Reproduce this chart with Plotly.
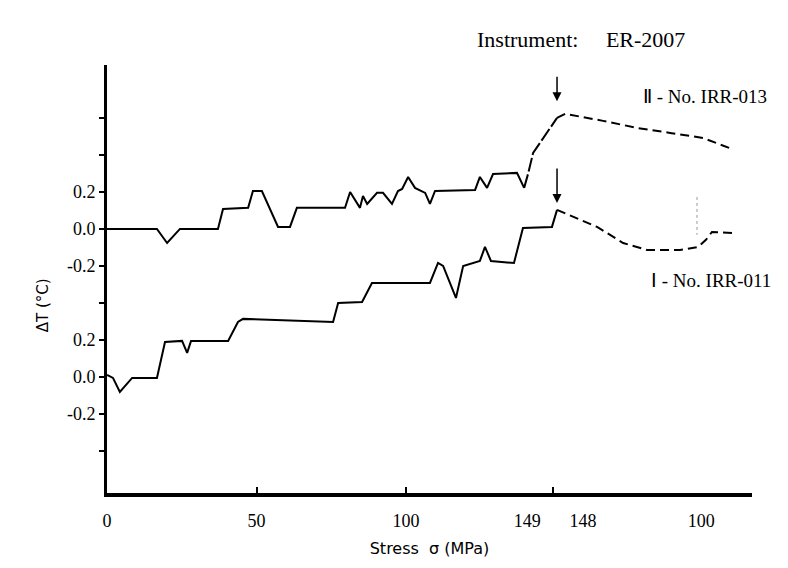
import plotly.graph_objects as go

# ---- data (x = loading/unloading progress in MPa-equivalent units, y = ΔT in °C) ----
# Curve II - No. IRR-013 (upper), loading branch
up_load_x = [0, 16.7, 20.1, 24.4, 37.1, 38.8, 47.2, 48.8, 51.8, 57.2, 61.2, 63.5, 79.6, 81.3,
             84.6, 85.6, 87.0, 90.3, 92.3, 95.3, 97.3, 98.7, 100.7, 103.0, 106.4, 108.0, 109.7,
             123.1, 124.7, 127.1, 129.1, 137.1, 139.5, 140.8, 142.5, 150.5]
up_load_y = [0, 0, -0.076, 0, 0, 0.108, 0.114, 0.205, 0.205, 0.011, 0.011, 0.114, 0.114, 0.2,
             0.114, 0.178, 0.135, 0.195, 0.195, 0.135, 0.205, 0.216, 0.281, 0.222, 0.195, 0.135, 0.205,
             0.211, 0.281, 0.222, 0.297, 0.303, 0.222, 0.297, 0.411, 0.6]
# Curve II unloading branch
up_unload_x = [150.5, 153.2, 165.9, 177.3, 188.3, 199.3, 209.0]
up_unload_y = [0.6, 0.622, 0.584, 0.546, 0.519, 0.492, 0.432]

# Curve I - No. IRR-011 (lower), loading branch
lo_load_x = [0, 2.0, 4.3, 8.4, 16.7, 19.4, 25.1, 26.8, 28.1, 40.5, 43.8, 45.5, 75.6, 77.3,
             85.3, 88.6, 108.0, 110.7, 112.4, 116.7, 119.1, 124.7, 126.4, 128.4, 136.1, 139.1,
             148.8, 150.5]
lo_load_y = [0.011, -0.005, -0.081, -0.005, -0.005, 0.189, 0.195, 0.130, 0.195, 0.195, 0.297, 0.314,
             0.297, 0.4, 0.405, 0.508, 0.508, 0.616, 0.6, 0.427, 0.6, 0.627, 0.703, 0.627, 0.616,
             0.805, 0.811, 0.903]
# Curve I unloading branch
lo_unload_x = [150.5, 163.9, 172.6, 180.6, 191.6, 197.7, 200.3, 202.3, 209.4]
lo_unload_y = [0.903, 0.811, 0.724, 0.686, 0.686, 0.703, 0.741, 0.784, 0.778]

# faint dotted mark near the end of curve I
dot_x = [197.3, 197.3]
dot_y = [0.973, 0.768]

# vertical offset for stacking curve II above curve I
UP_OFFSET = 0.8

# axis tick labels
x_tick_pos = [0, 50, 100, 140.5, 159.2, 198.7]
x_tick_text = ["0", "50", "100", "149", "148", "100"]
x_tick_marks = [0, 50, 100, 149]
y_tick_pos = [-0.4, -0.2, 0.0, 0.2, 0.4, 0.6, 0.8, 1.0, 1.2, 1.4]
y_tick_text = ["", "-0.2", "0.0", "0.2", "", "-0.2", "0.0", "0.2", "", ""]

series_labels = ["Ⅱ - No. IRR-013", "Ⅰ - No. IRR-011"]

fig = go.Figure()
solid = dict(color="black", width=2)
dashed = dict(color="black", width=2, dash="9px,5px")
n_rise = 3  # last points of curve II loading drawn as the broken rising stroke
up_y_plot = [v + UP_OFFSET for v in up_load_y]
fig.add_trace(go.Scatter(x=up_load_x[:-n_rise], y=up_y_plot[:-n_rise], mode="lines", line=solid))
fig.add_trace(go.Scatter(x=up_load_x[-n_rise - 1:], y=up_y_plot[-n_rise - 1:], mode="lines",
                         line=dict(color="black", width=2, dash="14px,3px")))
fig.add_trace(go.Scatter(x=up_unload_x, y=[v + UP_OFFSET for v in up_unload_y], mode="lines", line=dashed))
fig.add_trace(go.Scatter(x=lo_load_x, y=lo_load_y, mode="lines", line=solid))
fig.add_trace(go.Scatter(x=lo_unload_x, y=lo_unload_y, mode="lines", line=dashed))
fig.add_trace(go.Scatter(x=dot_x, y=dot_y, mode="lines",
                         line=dict(color="#999999", width=1, dash="dot")))
# invisible trace for the tick-mark axis
fig.add_trace(go.Scatter(x=[0], y=[0], xaxis="x2", mode="markers", marker=dict(opacity=0),
                         hoverinfo="skip"))

serif = "Liberation Serif"
fig.update_layout(
    width=788, height=568,
    margin=dict(l=107, r=36, t=65, b=75),
    paper_bgcolor="white", plot_bgcolor="white",
    showlegend=False,
    xaxis=dict(range=[0, 215.7], tickvals=x_tick_pos, ticktext=x_tick_text, ticks="",
               showline=True, linecolor="black", linewidth=4, showgrid=False, zeroline=False,
               tickfont=dict(family=serif, size=18, color="black"), ticklabelstandoff=8,
               title=dict(text="Stress  σ (MPa)", font=dict(family="DejaVu Sans", size=16, color="black"),
                          standoff=14)),
    xaxis2=dict(range=[0, 215.7], overlaying="x", side="bottom", tickvals=x_tick_marks,
                showticklabels=False, ticks="inside", ticklen=6, tickwidth=1.5, tickcolor="black",
                showline=False, showgrid=False, zeroline=False),
    yaxis=dict(range=[-0.627, 1.686], tickvals=y_tick_pos, ticktext=y_tick_text, ticks="outside",
               ticklen=5, tickwidth=1.5, tickcolor="black",
               showline=True, linecolor="black", linewidth=3, showgrid=False, zeroline=False,
               tickfont=dict(family=serif, size=18, color="black")),
    annotations=[
        dict(text="ΔT (°C)", xref="paper", yref="paper", x=-0.116, y=0.439, textangle=-90,
             showarrow=False, font=dict(family="DejaVu Sans", size=15, color="black")),
        dict(text="Instrument:     ER-2007", xref="x", yref="paper", x=158.5, y=1.093,
             showarrow=False, font=dict(family=serif, size=22, color="black")),
        dict(text=series_labels[0], xref="x", yref="y", x=200.0, y=1.514, showarrow=False,
             font=dict(family=serif, size=19, color="black")),
        dict(text=series_labels[1], xref="x", yref="y", x=202.0, y=0.524, showarrow=False,
             font=dict(family=serif, size=19, color="black")),
        dict(x=150.5, y=1.49, xref="x", yref="y", ax=0, ay=-26, showarrow=True,
             arrowhead=2, arrowsize=1.2, arrowwidth=1.5, arrowcolor="black", text=""),
        dict(x=150.5, y=0.94, xref="x", yref="y", ax=0, ay=-36, showarrow=True,
             arrowhead=2, arrowsize=1.2, arrowwidth=1.5, arrowcolor="black", text=""),
    ],
)

fig.write_html("out.html")
